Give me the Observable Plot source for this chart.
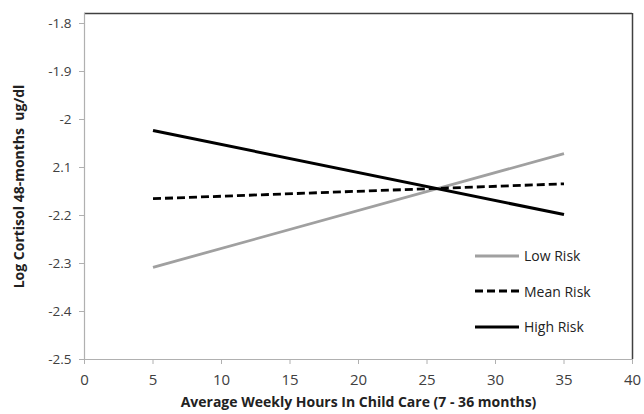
<!DOCTYPE html>
<html>
<head>
<meta charset="utf-8">
<script src="https://cdn.jsdelivr.net/npm/d3@7"></script>
<script src="https://cdn.jsdelivr.net/npm/@observablehq/plot@0.6"></script>
<style>
  html, body { margin: 0; padding: 0; background: #fff; }
  #wrap { position: relative; width: 644px; height: 414px; font-family: "Open Sans", sans-serif; }
  #wrap svg { font-family: "Open Sans", sans-serif; }
  #legend { position: absolute; left: 475px; top: 238px; font-size: 14px; color: #222; }
  #legend .row { display: flex; align-items: center; height: 35.5px; }
  #legend svg { margin-right: 5px; }
</style>
</head>
<body>
<div id="wrap"></div>
<script>
const hours = [5, 35];
const lowRisk = [-2.308, -2.071];
const meanRisk = [-2.165, -2.134];
const highRisk = [-2.023, -2.198];
const seriesNames = ["Low Risk", "Mean Risk", "High Risk"];
const xTicks = [0, 5, 10, 15, 20, 25, 30, 35, 40];
const yTicks = [-1.8, -1.9, -2.0, -2.1, -2.2, -2.3, -2.4, -2.5];
const yTickLabels = ["-1.8", "-1.9", "-2", "2.1", "-2.2", "-2.3", "-2.4", "-2.5"];

const styles = {
  "Low Risk": {stroke: "#a0a0a0", dash: null, width: 2.8},
  "Mean Risk": {stroke: "#000", dash: "8,4", width: 2.8},
  "High Risk": {stroke: "#000", dash: null, width: 3}
};

const rows = [];
[lowRisk, meanRisk, highRisk].forEach((vals, s) => {
  hours.forEach((h, i) => rows.push({series: seriesNames[s], x: h, y: vals[i]}));
});

const lineMarks = seriesNames.map(name => Plot.line(rows.filter(r => r.series === name), {
  x: "x", y: "y", stroke: styles[name].stroke, strokeWidth: styles[name].width,
  strokeDasharray: styles[name].dash, strokeLinecap: "butt"
}));

const yTop = -2.5 + 0.1 * 346 / 48;

const chart = Plot.plot({
  width: 644,
  height: 414,
  marginLeft: 84,
  marginRight: 12,
  marginTop: 13,
  marginBottom: 55,
  x: {domain: [0, 40]},
  y: {domain: [-2.5, yTop]},
  marks: [
    Plot.ruleY([yTop], {stroke: "#404040", strokeWidth: 1.5}),
    Plot.ruleX([40], {stroke: "#404040", strokeWidth: 1.5}),
    Plot.ruleX([0], {stroke: "#b0b0b0", strokeWidth: 1.2}),
    Plot.ruleY([-2.5], {stroke: "#b0b0b0", strokeWidth: 1.2}),
    ...lineMarks,
    Plot.axisY({
      ticks: yTicks, tickFormat: (d) => yTickLabels[yTicks.indexOf(d)],
      tickSize: 5, tickPadding: 8, stroke: "#b0b0b0", fontSize: 13.5, color: "#404040",
      label: null
    }),
    Plot.axisX({
      ticks: xTicks, tickSize: 5, tickPadding: 10, stroke: "#b0b0b0", fontSize: 15, color: "#404040",
      label: null
    }),
    Plot.text(["Log Cortisol 48-months  ug/dl"], {
      frameAnchor: "left", textAnchor: "middle", dx: -65, rotate: -90, fontSize: 14, fontWeight: "bold", fill: "#222"
    }),
    Plot.text(["Average Weekly Hours In Child Care (7 - 36 months)"], {
      frameAnchor: "bottom", dy: 47, fontSize: 14, fontWeight: "bold", fill: "#222"
    })
  ]
});
chart.style.color = "#404040";
document.getElementById("wrap").appendChild(chart);

// legend
const legend = document.createElement("div");
legend.id = "legend";
seriesNames.forEach(name => {
  const row = document.createElement("div");
  row.className = "row";
  const st = styles[name];
  row.innerHTML = `<svg width="44" height="6"><line x1="0" x2="44" y1="3" y2="3" stroke="${st.stroke}" stroke-width="${st.width}" ${st.dash ? `stroke-dasharray="${st.dash}"` : ""}></line></svg><span>${name}</span>`;
  legend.appendChild(row);
});
document.getElementById("wrap").appendChild(legend);
</script>
</body>
</html>
